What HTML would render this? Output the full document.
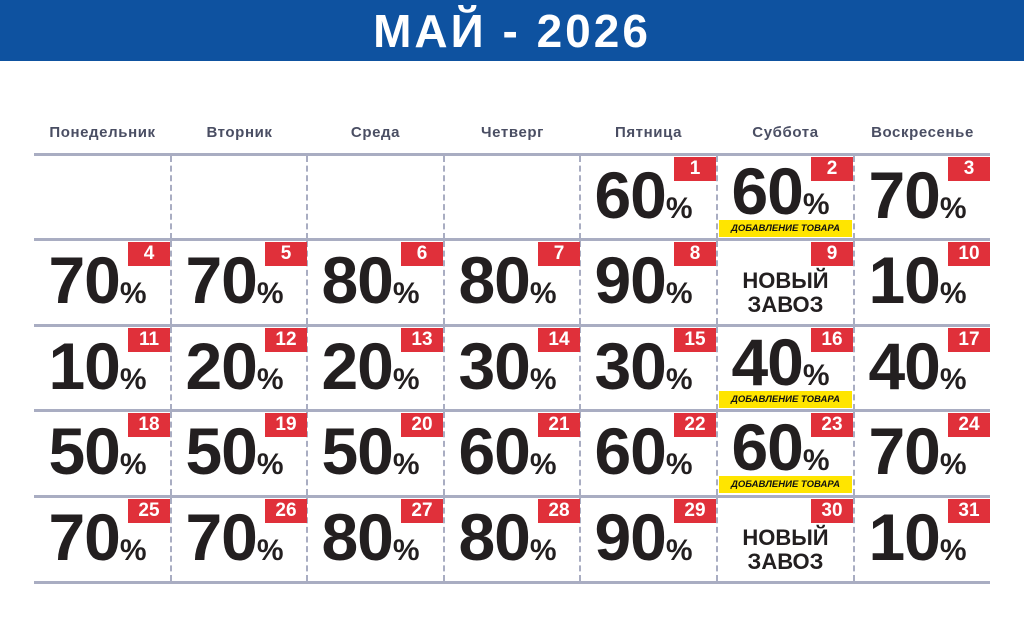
<!DOCTYPE html>
<html><head><meta charset="utf-8"><style>
*{margin:0;padding:0;box-sizing:border-box}
body{width:1024px;height:640px;background:#fff;position:relative;overflow:hidden;font-family:"Liberation Sans","Noto Sans CJK SC",sans-serif}
.hd{position:absolute;left:0;top:0;width:1024px;height:61px;background:#0e52a0;color:#fff;font-weight:bold;font-size:46px;text-align:center;line-height:62px;letter-spacing:3px}
.dn{position:absolute;top:124px;width:137px;text-align:center;font-weight:bold;font-size:15px;letter-spacing:0.6px;color:#4a4e63}
.h{position:absolute;left:34px;width:956px;height:3px;background:#a9adc2}
.v{position:absolute;width:0;height:83px;border-left:2px dashed #a9adc2}
.c{position:absolute;width:137px;height:85px}
.n{position:absolute;left:0;top:7px;width:127px;text-align:center;font-weight:bold;font-size:66px;line-height:66px;color:#231f20;letter-spacing:-1px}
.n small{font-size:30px;letter-spacing:0}
.b{position:absolute;right:1px;top:2px;width:42px;height:24px;background:#e0303a;color:#fff;font-weight:bold;font-size:19px;line-height:24px;text-align:center;font-style:normal}
.y{position:absolute;left:2px;top:65px;width:133px;height:17px;background:#ffe500;color:#111;font-weight:bold;font-style:italic;font-size:9.5px;line-height:17px;text-align:center}
.up{top:3px}
.z{position:absolute;left:0;top:29px;width:137px;text-align:center;font-weight:bold;font-size:22px;line-height:24px;color:#231f20}
</style></head><body>
<div class="hd">МАЙ - 2026</div>
<div class="dn" style="left:34px">Понедельник</div>
<div class="dn" style="left:171px">Вторник</div>
<div class="dn" style="left:307px">Среда</div>
<div class="dn" style="left:444px">Четверг</div>
<div class="dn" style="left:580px">Пятница</div>
<div class="dn" style="left:717px">Суббота</div>
<div class="dn" style="left:854px">Воскресенье</div>

<div class="h" style="top:153px"></div>
<div class="h" style="top:238px"></div>
<div class="h" style="top:324px"></div>
<div class="h" style="top:409px"></div>
<div class="h" style="top:495px"></div>
<div class="h" style="top:581px"></div>

<div class="v" style="left:170px;top:156px"></div><div class="v" style="left:306px;top:156px"></div><div class="v" style="left:443px;top:156px"></div><div class="v" style="left:579px;top:156px"></div><div class="v" style="left:716px;top:156px"></div><div class="v" style="left:853px;top:156px"></div>
<div class="v" style="left:170px;top:241px"></div><div class="v" style="left:306px;top:241px"></div><div class="v" style="left:443px;top:241px"></div><div class="v" style="left:579px;top:241px"></div><div class="v" style="left:716px;top:241px"></div><div class="v" style="left:853px;top:241px"></div>
<div class="v" style="left:170px;top:327px"></div><div class="v" style="left:306px;top:327px"></div><div class="v" style="left:443px;top:327px"></div><div class="v" style="left:579px;top:327px"></div><div class="v" style="left:716px;top:327px"></div><div class="v" style="left:853px;top:327px"></div>
<div class="v" style="left:170px;top:412px"></div><div class="v" style="left:306px;top:412px"></div><div class="v" style="left:443px;top:412px"></div><div class="v" style="left:579px;top:412px"></div><div class="v" style="left:716px;top:412px"></div><div class="v" style="left:853px;top:412px"></div>
<div class="v" style="left:170px;top:498px"></div><div class="v" style="left:306px;top:498px"></div><div class="v" style="left:443px;top:498px"></div><div class="v" style="left:579px;top:498px"></div><div class="v" style="left:716px;top:498px"></div><div class="v" style="left:853px;top:498px"></div>

<div class="c" style="left:580px;top:155px"><b class="n">60<small>%</small></b><i class="b">1</i></div>
<div class="c" style="left:717px;top:155px"><b class="n up">60<small>%</small></b><i class="b">2</i><div class="y">ДОБАВЛЕНИЕ ТОВАРА</div></div>
<div class="c" style="left:854px;top:155px"><b class="n">70<small>%</small></b><i class="b">3</i></div>

<div class="c" style="left:34px;top:240px"><b class="n">70<small>%</small></b><i class="b">4</i></div>
<div class="c" style="left:171px;top:240px"><b class="n">70<small>%</small></b><i class="b">5</i></div>
<div class="c" style="left:307px;top:240px"><b class="n">80<small>%</small></b><i class="b">6</i></div>
<div class="c" style="left:444px;top:240px"><b class="n">80<small>%</small></b><i class="b">7</i></div>
<div class="c" style="left:580px;top:240px"><b class="n">90<small>%</small></b><i class="b">8</i></div>
<div class="c" style="left:717px;top:240px"><div class="z">НОВЫЙ<br>ЗАВОЗ</div><i class="b">9</i></div>
<div class="c" style="left:854px;top:240px"><b class="n">10<small>%</small></b><i class="b">10</i></div>

<div class="c" style="left:34px;top:326px"><b class="n">10<small>%</small></b><i class="b">11</i></div>
<div class="c" style="left:171px;top:326px"><b class="n">20<small>%</small></b><i class="b">12</i></div>
<div class="c" style="left:307px;top:326px"><b class="n">20<small>%</small></b><i class="b">13</i></div>
<div class="c" style="left:444px;top:326px"><b class="n">30<small>%</small></b><i class="b">14</i></div>
<div class="c" style="left:580px;top:326px"><b class="n">30<small>%</small></b><i class="b">15</i></div>
<div class="c" style="left:717px;top:326px"><b class="n up">40<small>%</small></b><i class="b">16</i><div class="y">ДОБАВЛЕНИЕ ТОВАРА</div></div>
<div class="c" style="left:854px;top:326px"><b class="n">40<small>%</small></b><i class="b">17</i></div>

<div class="c" style="left:34px;top:411px"><b class="n">50<small>%</small></b><i class="b">18</i></div>
<div class="c" style="left:171px;top:411px"><b class="n">50<small>%</small></b><i class="b">19</i></div>
<div class="c" style="left:307px;top:411px"><b class="n">50<small>%</small></b><i class="b">20</i></div>
<div class="c" style="left:444px;top:411px"><b class="n">60<small>%</small></b><i class="b">21</i></div>
<div class="c" style="left:580px;top:411px"><b class="n">60<small>%</small></b><i class="b">22</i></div>
<div class="c" style="left:717px;top:411px"><b class="n up">60<small>%</small></b><i class="b">23</i><div class="y">ДОБАВЛЕНИЕ ТОВАРА</div></div>
<div class="c" style="left:854px;top:411px"><b class="n">70<small>%</small></b><i class="b">24</i></div>

<div class="c" style="left:34px;top:497px"><b class="n">70<small>%</small></b><i class="b">25</i></div>
<div class="c" style="left:171px;top:497px"><b class="n">70<small>%</small></b><i class="b">26</i></div>
<div class="c" style="left:307px;top:497px"><b class="n">80<small>%</small></b><i class="b">27</i></div>
<div class="c" style="left:444px;top:497px"><b class="n">80<small>%</small></b><i class="b">28</i></div>
<div class="c" style="left:580px;top:497px"><b class="n">90<small>%</small></b><i class="b">29</i></div>
<div class="c" style="left:717px;top:497px"><div class="z">НОВЫЙ<br>ЗАВОЗ</div><i class="b">30</i></div>
<div class="c" style="left:854px;top:497px"><b class="n">10<small>%</small></b><i class="b">31</i></div>
</body></html>
